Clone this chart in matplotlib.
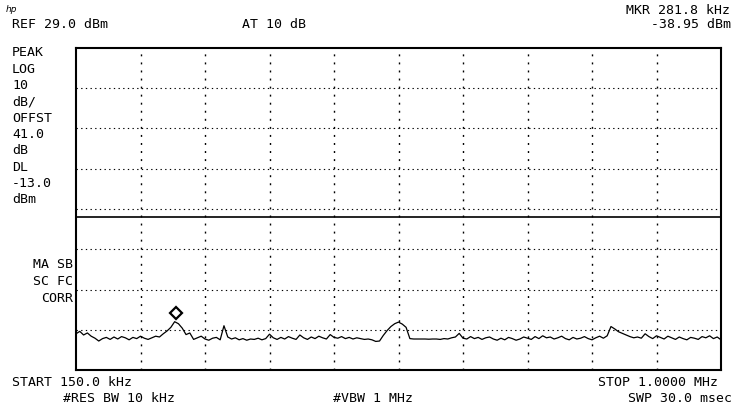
import numpy as np
import matplotlib
matplotlib.use("Agg")
import matplotlib.pyplot as plt
import matplotlib.transforms as mtransforms

# sweep settings
start_khz = 150.0
stop_khz = 1000.0
ref_dbm = 29.0
db_per_div = 10.0
n_div_y = 8
display_line = -13.0
mkr_khz = 281.8
mkr_dbm = -38.95

# trace, 5 kHz steps from 150 kHz to 1 MHz
freq_khz = np.linspace(start_khz, stop_khz, 171)
level_dbm = [
    -42.0, -41.4, -42.3, -41.8, -42.6, -43.1, -43.8, -43.2, -42.9, -43.4,
    -42.8, -43.3, -42.7, -43.0, -43.5, -42.9, -43.2, -42.6, -43.1, -43.4,
    -43.0, -42.6, -42.8, -42.0, -41.3, -40.4, -39.0, -39.5, -40.6, -42.2,
    -41.8, -43.4, -43.0, -42.6, -43.3, -43.6, -43.1, -42.9, -43.5, -40.0,
    -42.8, -43.3, -43.0, -43.5, -43.2, -43.6, -43.3, -43.4, -43.1, -43.5,
    -43.2, -42.1, -43.0, -43.4, -42.9, -43.3, -42.7, -43.1, -43.4, -42.3,
    -43.0, -43.4, -42.8, -43.2, -42.6, -43.0, -43.3, -42.2, -42.9, -43.1,
    -42.7, -43.2, -42.9, -43.3, -43.0, -43.2, -43.4, -43.3, -43.5, -43.9,
    -43.8, -42.4, -41.2, -40.2, -39.5, -39.1, -39.6, -40.4, -43.2, -43.3,
    -43.3, -43.3, -43.3, -43.35, -43.3, -43.3, -43.4, -43.2, -43.3, -43.0,
    -42.8, -41.9, -43.1, -43.3, -42.7, -43.2, -42.9, -43.4, -43.0, -42.8,
    -43.3, -43.6, -43.1, -43.5, -42.9, -43.2, -43.6, -43.3, -42.8, -43.1,
    -43.4, -42.7, -43.2, -42.5, -43.0, -42.8, -43.3, -43.0, -42.6, -43.2,
    -43.5, -42.9, -43.3, -43.1, -42.7, -43.2, -43.5, -43.0, -42.6, -43.1,
    -42.5, -40.2, -40.8, -41.5, -41.9, -42.3, -42.7, -43.0, -42.8, -43.1,
    -42.0, -42.7, -43.2, -42.5, -42.9, -43.3, -42.6, -43.0, -43.4, -42.8,
    -43.2, -43.5, -42.9, -43.1, -43.4, -42.7, -43.0, -42.5, -43.2, -42.8,
    -43.5,
]

left_labels = ["PEAK", "LOG", "10", "dB/", "OFFST", "41.0", "dB", "DL", "-13.0", "dBm"]
corr_labels = ["MA SB", "SC FC", "CORR"]

W, H = 737, 412
fig = plt.figure(figsize=(W / 100, H / 100), dpi=100)
fig.patch.set_facecolor("white")

# graticule box in pixels: x 76..721, y 48..370
ax = fig.add_axes([76 / W, (H - 370) / H, 645 / W, 322 / H])
ax.set_xlim(start_khz, stop_khz)
ax.set_ylim(ref_dbm - n_div_y * db_per_div, ref_dbm)
ax.set_xticks([])
ax.set_yticks([])
for sp in ax.spines.values():
    sp.set_linewidth(1.5)
    sp.set_color("black")

# dotted graticule
span = stop_khz - start_khz
for k in range(1, 10):
    ax.axvline(start_khz + k * span / 10, color="black", lw=1.0,
               dashes=(1.4, 4.4), zorder=1)
for k in range(1, n_div_y):
    ax.axhline(ref_dbm - k * db_per_div, color="black", lw=0.8,
               dashes=(1.2, 3.0), zorder=1)

# display line
ax.axhline(display_line, color="black", lw=1.2, zorder=2)

# trace
ax.plot(freq_khz, level_dbm, color="black", lw=0.9, zorder=3)

# marker diamond sits just above the trace point
mk_tr = mtransforms.offset_copy(ax.transData, fig=fig, x=0, y=8, units="dots")
ax.plot([mkr_khz], [mkr_dbm], marker="D", ms=6.3, mfc="white", mec="black",
        mew=1.6, transform=mk_tr, zorder=4)

# screen annotations
mono = dict(family="DejaVu Sans Mono", fontsize=9.5, color="black")


def px_text(x, y, s, ha="left"):
    fig.text(x / W, 1 - y / H, s, ha=ha, va="center", **mono)


fig.text(6 / W, 1 - 9 / H, "hp", ha="left", va="center", fontsize=6.5,
         style="italic", family="DejaVu Sans")
px_text(12, 25, "REF 29.0 dBm")
px_text(242, 25, "AT 10 dB")
px_text(730, 10, "MKR 281.8 kHz", ha="right")
px_text(731, 25, "-38.95 dBm", ha="right")

for k, lab in enumerate(left_labels):
    px_text(12, 53 + 16.3 * k, lab)
for k, lab in enumerate(corr_labels):
    px_text(73, 265 + 16.5 * k, lab, ha="right")

px_text(12, 382, "START 150.0 kHz")
px_text(718, 382, "STOP 1.0000 MHz", ha="right")
px_text(63, 399, "#RES BW 10 kHz")
px_text(333, 399, "#VBW 1 MHz")
px_text(732, 399, "SWP 30.0 msec", ha="right")

fig.savefig("out.png", dpi=100)
